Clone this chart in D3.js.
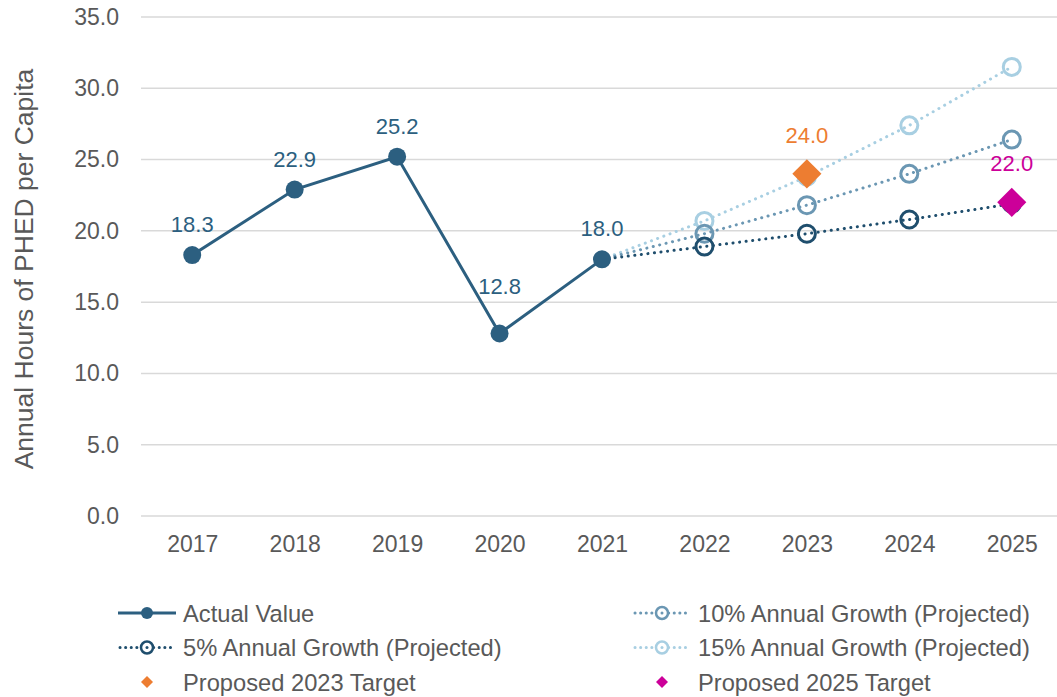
<!DOCTYPE html>
<html>
<head>
<meta charset="utf-8">
<script src="https://cdn.jsdelivr.net/npm/d3@7"></script>
<style>
  body { margin: 0; background: #fff; }
  text { font-family: "Liberation Sans", Arial, sans-serif; }
</style>
</head>
<body>
<svg></svg>
<script>
var screen = {width: 1057, height: 697}
var margins = {top: 17, right: -6, bottom: 181, left: 141}

// data
var years = ["2017", "2018", "2019", "2020", "2021", "2022", "2023", "2024", "2025"]
var actualYears = ["2017", "2018", "2019", "2020", "2021"]
var actualValues = [18.3, 22.9, 25.2, 12.8, 18.0]
var projYears = ["2021", "2022", "2023", "2024", "2025"]
var growth5 = [18.0, 18.9, 19.8, 20.8, 21.9]
var growth10 = [18.0, 19.8, 21.8, 24.0, 26.4]
var growth15 = [18.0, 20.7, 23.8, 27.4, 31.5]
var targets = [{year: "2023", value: 24.0, name: "Proposed 2023 Target"},
               {year: "2025", value: 22.0, name: "Proposed 2025 Target"}]
var yTicks = [0, 5, 10, 15, 20, 25, 30, 35]

var colors = {actual: "#2c5f80", g5: "#1f4e6d", g10: "#6b97b3", g15: "#a8cfe2",
              t2023: "#ed7d31", t2025: "#cc0099"}

var svg = d3.select("svg")
    .attr("width", screen.width)
    .attr("height", screen.height)

var width = screen.width - margins.left - margins.right
var height = screen.height - margins.top - margins.bottom

var xScale = d3.scalePoint()
    .domain(years)
    .range([0, width])
    .padding(0.5)

var yScale = d3.scaleLinear()
    .domain([0, 35])
    .range([height, 0])

var graph = svg.append("g")
    .attr("id", "graph")
    .attr("transform", "translate(" + margins.left + "," + margins.top + ")")

// gridlines
graph.append("g")
    .selectAll("line")
    .data(yTicks)
    .enter()
    .append("line")
    .attr("x1", 0)
    .attr("x2", width)
    .attr("y1", function(d){return yScale(d)})
    .attr("y2", function(d){return yScale(d)})
    .attr("stroke", "#d9d9d9")
    .attr("stroke-width", 1.5)

var yAxis = d3.axisLeft(yScale)
    .tickValues(yTicks)
    .tickFormat(d3.format(".1f"))
    .tickSize(0)
    .tickPadding(22)

graph.append("g")
    .attr("id", "yAxis")
    .call(yAxis)
    .call(function(g){g.select(".domain").remove()})
    .selectAll("text")
    .attr("font-size", 23)
    .attr("fill", "#595959")
    .attr("font-family", "Liberation Sans, Arial, sans-serif")

var xAxis = d3.axisBottom(xScale)
    .tickSize(0)
    .tickPadding(20)

graph.append("g")
    .attr("id", "xAxis")
    .attr("transform", "translate(0," + height + ")")
    .call(xAxis)
    .call(function(g){g.select(".domain").remove()})
    .selectAll("text")
    .attr("font-size", 23)
    .attr("fill", "#595959")
    .attr("font-family", "Liberation Sans, Arial, sans-serif")

// y title
svg.append("text")
    .attr("transform", "translate(33,269)rotate(-90)")
    .attr("text-anchor", "middle")
    .attr("font-size", 26.5)
    .attr("fill", "#595959")
    .text("Annual Hours of PHED per Capita")

var drawProjection = function(values, color, parent)
{
    var pts = projYears.map(function(y, i){return {year: y, value: values[i]}})
    var lineGenerator = d3.line()
        .x(function(d){return xScale(d.year)})
        .y(function(d){return yScale(d.value)})
    parent.append("path")
        .datum(pts)
        .attr("d", lineGenerator)
        .attr("fill", "none")
        .attr("stroke", color)
        .attr("stroke-width", 3)
        .attr("stroke-linecap", "round")
        .attr("stroke-dasharray", "0.1 6.5")
    parent.selectAll(null)
        .data(pts.slice(1))
        .enter()
        .append("circle")
        .attr("cx", function(d){return xScale(d.year)})
        .attr("cy", function(d){return yScale(d.value)})
        .attr("r", 8.5)
        .attr("fill", "none")
        .attr("stroke", color)
        .attr("stroke-width", 3)
}

drawProjection(growth15, colors.g15, graph.append("g"))
drawProjection(growth10, colors.g10, graph.append("g"))
drawProjection(growth5, colors.g5, graph.append("g"))

// actual values
var actual = actualYears.map(function(y, i){return {year: y, value: actualValues[i]}})
var actualLine = d3.line()
    .x(function(d){return xScale(d.year)})
    .y(function(d){return yScale(d.value)})

graph.append("path")
    .datum(actual)
    .attr("d", actualLine)
    .attr("fill", "none")
    .attr("stroke", colors.actual)
    .attr("stroke-width", 3)

graph.append("g")
    .selectAll("circle")
    .data(actual)
    .enter()
    .append("circle")
    .attr("cx", function(d){return xScale(d.year)})
    .attr("cy", function(d){return yScale(d.value)})
    .attr("r", 9)
    .attr("fill", colors.actual)

graph.append("g")
    .selectAll("text")
    .data(actual)
    .enter()
    .append("text")
    .attr("x", function(d){return xScale(d.year)})
    .attr("y", function(d){return yScale(d.value) - (d.year == "2020" ? 40 : 23)})
    .attr("text-anchor", "middle")
    .attr("font-size", 22)
    .attr("fill", colors.actual)
    .text(function(d){return d3.format(".1f")(d.value)})

// targets
var diamond = d3.symbol().type(d3.symbolDiamond2).size(540)
var targetColor = function(d){return d.year == "2023" ? colors.t2023 : colors.t2025}

graph.append("g")
    .selectAll("path")
    .data(targets)
    .enter()
    .append("path")
    .attr("d", diamond)
    .attr("transform", function(d){return "translate(" + xScale(d.year) + "," + yScale(d.value) + ")"})
    .attr("fill", targetColor)

graph.append("g")
    .selectAll("text")
    .data(targets)
    .enter()
    .append("text")
    .attr("x", function(d){return xScale(d.year)})
    .attr("y", function(d){return yScale(d.value) - 31})
    .attr("text-anchor", "middle")
    .attr("font-size", 22)
    .attr("fill", targetColor)
    .text(function(d){return d3.format(".1f")(d.value)})

// legend
var legendItems = [
    {name: "Actual Value", type: "solid", color: colors.actual, col: 0, row: 0},
    {name: "5% Annual Growth (Projected)", type: "dot", color: colors.g5, col: 0, row: 1},
    {name: "Proposed 2023 Target", type: "diamond", color: colors.t2023, col: 0, row: 2},
    {name: "10% Annual Growth (Projected)", type: "dot", color: colors.g10, col: 1, row: 0},
    {name: "15% Annual Growth (Projected)", type: "dot", color: colors.g15, col: 1, row: 1},
    {name: "Proposed 2025 Target", type: "diamond", color: colors.t2025, col: 1, row: 2}
]

var gs = svg.append("g").attr("id", "legend")
    .selectAll("g")
    .data(legendItems)
    .enter()
    .append("g")
    .attr("transform", function(d){return "translate(" + (118 + d.col * 515) + "," + (613 + d.row * 34.5) + ")"})

gs.each(function(d)
{
    var g = d3.select(this)
    if (d.type == "solid") {
        g.append("line").attr("x1", 0).attr("x2", 58)
            .attr("stroke", d.color).attr("stroke-width", 3)
        g.append("circle").attr("cx", 29).attr("r", 6).attr("fill", d.color)
    } else if (d.type == "dot") {
        g.append("line").attr("x1", 2).attr("x2", 56)
            .attr("stroke", d.color).attr("stroke-width", 3)
            .attr("stroke-linecap", "round").attr("stroke-dasharray", "0.1 5.5")
        g.append("circle").attr("cx", 29).attr("r", 6)
            .attr("fill", "#fff").attr("stroke", d.color).attr("stroke-width", 2.5)
        g.append("circle").attr("cx", 29).attr("r", 1.5).attr("fill", d.color)
    } else {
        g.append("path").attr("d", d3.symbol().type(d3.symbolDiamond2).size(92))
            .attr("transform", "translate(29,0)")
            .attr("fill", d.color)
    }
})

gs.append("text")
    .text(function(d){return d.name})
    .attr("x", 65)
    .attr("y", 8.5)
    .attr("font-size", 23.7)
    .attr("fill", "#595959")
</script>
</body>
</html>
